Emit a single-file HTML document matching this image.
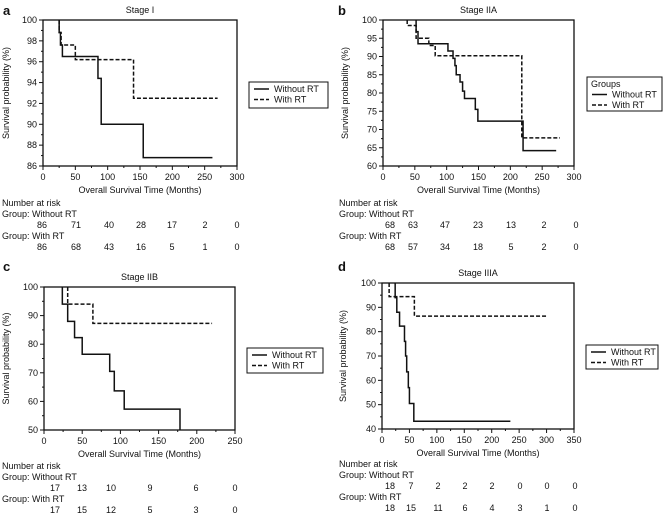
<!DOCTYPE html>
<html><head><meta charset="utf-8"><style>
body{margin:0;background:#fff;}
svg{display:block;font-family:"Liberation Sans",Arial,sans-serif;}
text{fill:#111;}
</style></head><body>
<svg id="fig" width="669" height="521" viewBox="0 0 669 521"></svg>
<script>
// ---- Panel a: Stage I
const aTimesWithout=[25,27,30,85,90,155,262];
const aSurvWithout=[98.8,97.6,96.5,94.4,90.0,86.8,86.8];
const aTimesWith=[25,28,50,140,270];
const aSurvWith=[98.8,97.6,96.2,92.5,92.5];
const aRiskWithout=[86,71,40,28,17,2,0];
const aRiskWith=[86,68,43,16,5,1,0];
const aXTicks=[0,50,100,150,200,250,300];
const aYTicks=[86,88,90,92,94,96,98,100];
// ---- Panel b: Stage IIA
const bTimesWithout=[52,55,102,110,113,115,121,125,128,145,149,220,272];
const bSurvWithout=[96.8,93.5,91.5,89.5,87.5,85,83,80.5,78.5,75.5,72.3,64.2,64.2];
const bTimesWith=[38,52,72,82,218,278];
const bSurvWith=[98.5,95,93,90.2,67.7,67.7];
const bRiskWithout=[68,63,47,23,13,2,0];
const bRiskWith=[68,57,34,18,5,2,0];
const bXTicks=[0,50,100,150,200,250,300];
const bYTicks=[60,65,70,75,80,85,90,95,100];
// ---- Panel c: Stage IIB
const cTimesWithout=[24,31,40,50,86,92,105,178,178];
const cSurvWithout=[94,88,82.3,76.5,70.5,63.7,57.3,50,50];
const cTimesWith=[31,64,220];
const cSurvWith=[94,87.3,87.3];
const cRiskWithout=[17,13,10,9,6,0];
const cRiskWith=[17,15,12,5,3,0];
const cXTicks=[0,50,100,150,200,250];
const cYTicks=[50,60,70,80,90,100];
// ---- Panel d: Stage IIIA
const dTimesWithout=[24,27,32,41,43,45,48,50,58,234];
const dSurvWithout=[94,88,82.3,76,70,63.5,57,50.5,43.2,43.2];
const dTimesWith=[13,59,302];
const dSurvWith=[94.4,86.4,86.4];
const dRiskWithout=[18,7,2,2,2,0,0,0];
const dRiskWith=[18,15,11,6,4,3,1,0];
const dXTicks=[0,50,100,150,200,250,300,350];
const dYTicks=[40,50,60,70,80,90,100];

const NS='http://www.w3.org/2000/svg';
const fig=document.getElementById('fig');
function mk(tag,attrs,parent){const e=document.createElementNS(NS,tag);for(const k in attrs)e.setAttribute(k,attrs[k]);(parent||fig).appendChild(e);return e;}
function txt(s,x,y,attrs,parent){const t=mk('text',Object.assign({x:x,y:y,'font-size':9},attrs||{}),parent);t.textContent=s;return t;}

function panel(p){
  const g=mk('g',{});
  
  
  const xs=t=>p.L+(t-p.xMin)/(p.xMax-p.xMin)*(p.R-p.L);
  const ys=v=>p.B-(v-p.yMin)/(p.yMax-p.yMin)*(p.B-p.T);
  const lbl=txt(p.id,p.labX,p.labY,{'font-size':13,'font-weight':'bold'},g);
  
  
  const ti=txt(p.title,(p.L+p.R)/2,p.T-7,{'text-anchor':'middle'},g);
  
  
  const box=mk('rect',{x:p.L,y:p.T,width:p.R-p.L,height:p.B-p.T,fill:'none',stroke:'#111','stroke-width':1.3},g);
  
  
  p.xTicks.forEach((v,i)=>{
    const x=xs(v);
    mk('line',{x1:x,y1:p.B,x2:x,y2:p.B+4,stroke:'#111','stroke-width':1},g);
    if(i<p.xTicks.length-1){const xm=xs(v+(p.xTicks[1]-p.xTicks[0])/2);mk('line',{x1:xm,y1:p.B,x2:xm,y2:p.B+2,stroke:'#111'},g);}
    const t=txt(String(v),x,p.B+14,{'text-anchor':'middle'},g);
    
    
  });
  p.yTicks.forEach((v,i)=>{
    const y=ys(v);
    mk('line',{x1:p.L-4,y1:y,x2:p.L,y2:y,stroke:'#111','stroke-width':1},g);
    if(i<p.yTicks.length-1){const ym=ys(v+(p.yTicks[1]-p.yTicks[0])/2);mk('line',{x1:p.L-2,y1:ym,x2:p.L,y2:ym,stroke:'#111'},g);}
    const t=txt(String(v),p.L-6,y+3,{'text-anchor':'end'},g);
    
    
  });
  const xt=txt('Overall Survival Time (Months)',(p.L+p.R)/2,p.B+27,{'text-anchor':'middle'},g);
  
  
  const cy=(p.T+p.B)/2;
  const yt=txt('Survival probability (%)',p.yTitleX,cy,{'text-anchor':'middle',transform:'rotate(-90 '+p.yTitleX+' '+cy+')'},g);
  
  
  function curve(times,surv,dash,name){
    let d='M'+xs(times[0])+','+ys(p.yMax);
    let prev=times[0];
    for(let i=0;i<times.length;i++){
      d+=' H'+xs(times[i])+' V'+ys(surv[i]);
    }
    const path=mk('path',{d:d,fill:'none',stroke:'#111','stroke-width':1.5,'stroke-dasharray':dash?'4,2':'none'},g);
    
    
  }
  curve(p.tw,p.sw,false,'curve-without-rt');
  curve(p.tr,p.sr,true,'curve-with-rt');
  // legend
  const lg=mk('g',{},g);
  
  
  mk('rect',{x:p.lx,y:p.ly,width:p.lw,height:p.lh,fill:'#fff',stroke:'#111','stroke-width':1},lg);
  let ry=p.ly+10;
  if(p.groups){txt('Groups',p.lx+4,ry,{},lg);ry+=10.5;}
  mk('line',{x1:p.lx+5,y1:ry-3,x2:p.lx+20,y2:ry-3,stroke:'#111','stroke-width':1.5},lg);
  const e1=txt('Without RT',p.lx+25,ry,{},lg);
  
  
  ry+=10.5;
  mk('line',{x1:p.lx+5,y1:ry-3,x2:p.lx+20,y2:ry-3,stroke:'#111','stroke-width':1.5,'stroke-dasharray':'4,2'},lg);
  const e2=txt('With RT',p.lx+25,ry,{},lg);
  
  
  // risk table
  const rt=mk('g',{},g);
  
  
  txt('Number at risk',p.rx,p.r0,{},rt);
  txt('Group: Without RT',p.rx,p.r0+11,{},rt);
  txt('Group: With RT',p.rx,p.r0+33,{},rt);
  p.rw.forEach((v,i)=>txt(String(v),p.rcols[i],p.r0+22,{'text-anchor':'middle'},rt));
  p.rr.forEach((v,i)=>txt(String(v),p.rcols[i],p.r0+44,{'text-anchor':'middle'},rt));
}

panel({id:'a',title:'Stage I',L:43,R:237,T:20,B:166,xMin:0,xMax:300,yMin:86,yMax:100,
  xTicks:aXTicks,yTicks:aYTicks,tw:aTimesWithout,sw:aSurvWithout,tr:aTimesWith,sr:aSurvWith,
  labX:3,labY:15,yTitleX:9,lx:249,ly:82,lw:79,lh:26,groups:false,
  rx:2,r0:206,rw:aRiskWithout,rr:aRiskWith,rcols:[42,76,109,141,172,205,237]});
panel({id:'b',title:'Stage IIA',L:383,R:574,T:20,B:166,xMin:0,xMax:300,yMin:60,yMax:100,
  xTicks:bXTicks,yTicks:bYTicks,tw:bTimesWithout,sw:bSurvWithout,tr:bTimesWith,sr:bSurvWith,
  labX:338,labY:15,yTitleX:348,lx:587,ly:77,lw:75,lh:34,groups:true,
  rx:339,r0:206,rw:bRiskWithout,rr:bRiskWith,rcols:[390,413,445,478,511,544,576]});
panel({id:'c',title:'Stage IIB',L:44,R:235,T:287,B:430,xMin:0,xMax:250,yMin:50,yMax:100,
  xTicks:cXTicks,yTicks:cYTicks,tw:cTimesWithout,sw:cSurvWithout,tr:cTimesWith,sr:cSurvWith,
  labX:3,labY:271,yTitleX:9,lx:247,ly:348,lw:76,lh:25,groups:false,
  rx:2,r0:469,rw:cRiskWithout,rr:cRiskWith,rcols:[55,82,111,150,196,235]});
panel({id:'d',title:'Stage IIIA',L:382,R:574,T:283,B:429,xMin:0,xMax:350,yMin:40,yMax:100,
  xTicks:dXTicks,yTicks:dYTicks,tw:dTimesWithout,sw:dSurvWithout,tr:dTimesWith,sr:dSurvWith,
  labX:338,labY:271,yTitleX:346,lx:586,ly:345,lw:72,lh:24,groups:false,
  rx:339,r0:467,rw:dRiskWithout,rr:dRiskWith,rcols:[390,411,438,465,492,520,547,575]});
</script>
</body></html>
